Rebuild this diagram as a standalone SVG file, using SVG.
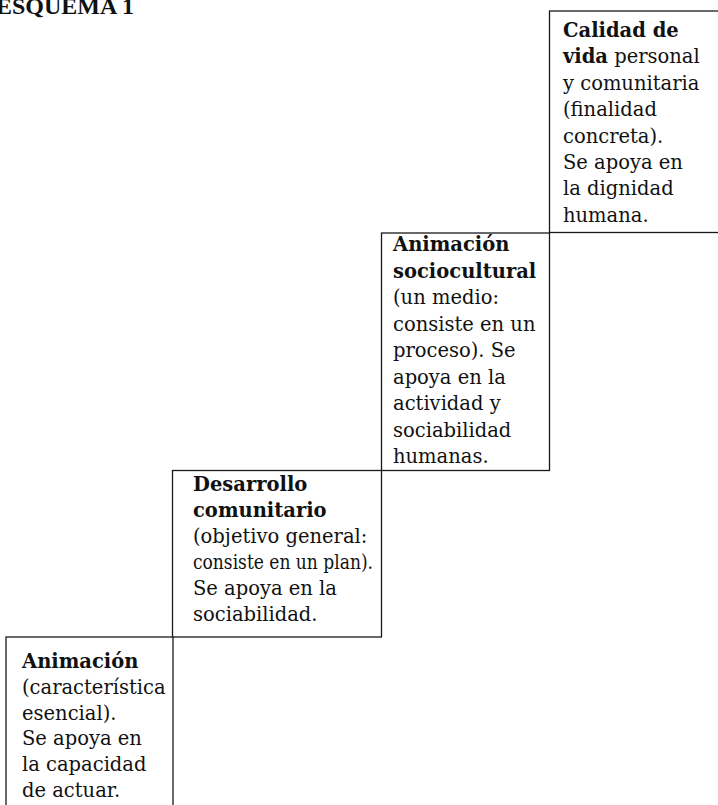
<svg xmlns="http://www.w3.org/2000/svg" width="718" height="805" viewBox="0 0 718 805">
<style>
  .box { fill: #ffffff; stroke: #1a1a1a; stroke-width: 1.3; }
  .t { font-family: "DejaVu Serif", "Liberation Serif", serif; font-size: 19.5px; fill: #111111; }
  .b { font-weight: bold; }
  .title { font-family: "Liberation Serif", "Times New Roman", serif; font-size: 24px; font-weight: bold; fill: #111111; }
</style>
<rect width="718" height="805" fill="#ffffff"/>
<text class="title" x="-4" y="14">ESQUEMA 1</text>

<g id="calidad-de-vida">
  <rect class="box" x="549.5" y="11" width="180" height="221.5"/>
  <text class="t" x="563" y="37">
    <tspan class="b" x="563" y="37">Calidad de</tspan>
    <tspan x="563" y="63.4"><tspan class="b">vida</tspan> personal</tspan>
    <tspan x="563" y="89.8">y comunitaria</tspan>
    <tspan x="563" y="116.2">(finalidad</tspan>
    <tspan x="563" y="142.6">concreta).</tspan>
    <tspan x="563" y="169">Se apoya en</tspan>
    <tspan x="563" y="195.4">la dignidad</tspan>
    <tspan x="563" y="221.8">humana.</tspan>
  </text>
</g>

<g id="animacion-sociocultural">
  <rect class="box" x="381.5" y="233" width="168" height="237.5"/>
  <text class="t" x="393" y="251">
    <tspan class="b" x="393" y="251">Animación</tspan>
    <tspan class="b" x="393" y="277.5">sociocultural</tspan>
    <tspan x="393" y="304">(un medio:</tspan>
    <tspan x="393" y="330.5">consiste en un</tspan>
    <tspan x="393" y="357">proceso). Se</tspan>
    <tspan x="393" y="383.5">apoya en la</tspan>
    <tspan x="393" y="410">actividad y</tspan>
    <tspan x="393" y="436.5">sociabilidad</tspan>
    <tspan x="393" y="463">humanas.</tspan>
  </text>
</g>

<g id="desarrollo-comunitario">
  <rect class="box" x="172.5" y="470.5" width="209" height="166.5"/>
  <text class="t" x="193" y="491">
    <tspan class="b" x="193" y="491">Desarrollo</tspan>
    <tspan class="b" x="193" y="517">comunitario</tspan>
    <tspan x="193" y="543">(objetivo general:</tspan>
    <tspan x="193" y="569" textLength="180" lengthAdjust="spacingAndGlyphs">consiste en un plan).</tspan>
    <tspan x="193" y="595">Se apoya en la</tspan>
    <tspan x="193" y="621">sociabilidad.</tspan>
  </text>
</g>

<g id="animacion">
  <rect class="box" x="6" y="637" width="167" height="200"/>
  <text class="t" x="22" y="668">
    <tspan class="b" x="22" y="668">Animación</tspan>
    <tspan x="22" y="693.8">(característica</tspan>
    <tspan x="22" y="719.6">esencial).</tspan>
    <tspan x="22" y="745.4">Se apoya en</tspan>
    <tspan x="22" y="771.2">la capacidad</tspan>
    <tspan x="22" y="797">de actuar.</tspan>
  </text>
</g>

<g id="connectors"></g>
</svg>
